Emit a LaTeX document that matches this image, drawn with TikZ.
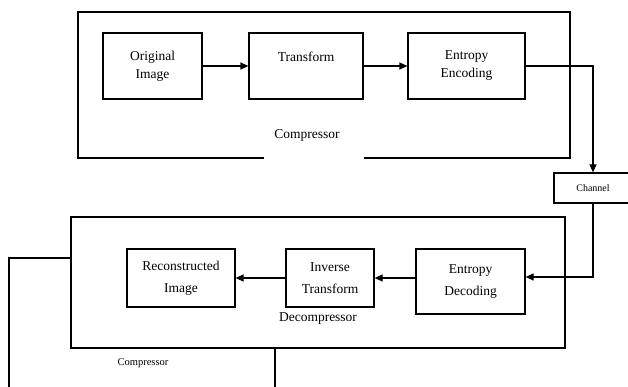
\documentclass[tikz,border=0pt]{standalone}
\usepackage{fontspec}
\setmainfont{Liberation Serif}
\usepackage{tikz}
\usetikzlibrary{arrows.meta,positioning,calc}

\begin{document}
\begin{tikzpicture}[x=1pt, y=-1pt, line width=1.2pt, >={Triangle[length=8pt,width=7pt]},
  blk/.style={draw,rectangle,align=center,inner sep=2pt,font=\fontsize{13.5}{18}\selectfont},
  blkb/.style={blk,font=\fontsize{13.5}{22}\selectfont},
  lbl/.style={font=\fontsize{13.5}{16}\selectfont}]
\useasboundingbox (0,0) rectangle (628,387);
% compressor part (box with a gap in its lower edge)
\coordinate (cgapl) at (264,158);
\coordinate (cgapr) at (364,158);
\draw (cgapl) -| (78,12) -| (570,158) -- (cgapr);
\node[lbl] (cmplbl) at (307,135) {Compressor};
\node[blk,minimum width=99pt,minimum height=66pt] (orig) at (152.5,66) {Original\\Image};
\node[blk,minimum width=114pt,minimum height=66pt] (trans) at (306,66) {Transform\\\mbox{}};
\node[blk,minimum width=117pt,minimum height=66pt] (enc) at (466.5,66) {Entropy\\Encoding};
\draw[->] (orig) -- (trans);
\draw[->] (trans) -- (enc);
% channel, cut by the right edge
\node[draw,minimum width=78pt,minimum height=30pt,inner sep=0pt,
  font=\fontsize{10}{12}\selectfont] (chan) at (593,188) {Channel};
\draw[->] (enc.east) -| (chan.north);
% decompressor part
\node[draw,minimum width=494pt,minimum height=131pt] (decbox) at (318,282.5) {};
\node[blkb,minimum width=108pt,minimum height=58pt] (recon) at (181,278) {Reconstructed\\Image};
\node[blkb,minimum width=88pt,minimum height=58pt] (inv) at (330,278) {Inverse\\Transform};
\node[blkb,minimum width=109pt,minimum height=65pt] (dec) at (470.5,281.5) {Entropy\\Decoding};
\node[lbl] (declbl) at (318,319) {Decompressor};
\draw[->] (chan.south) |- ([yshift=4.5pt]dec.east);
\draw[->] (dec.west |- inv.east) -- (inv.east);
\draw[->] (inv) -- (recon);
% loose lines at the bottom
\node[font=\fontsize{10.5}{12}\selectfont] (cmplbl2) at (143,363) {Compressor};
\coordinate (lend) at (9,390);
\coordinate (bend) at (275,390);
\draw ([yshift=24.5pt]decbox.west) -| (lend);
\draw (decbox.south -| bend) -- (bend);
\end{tikzpicture}
\end{document}
